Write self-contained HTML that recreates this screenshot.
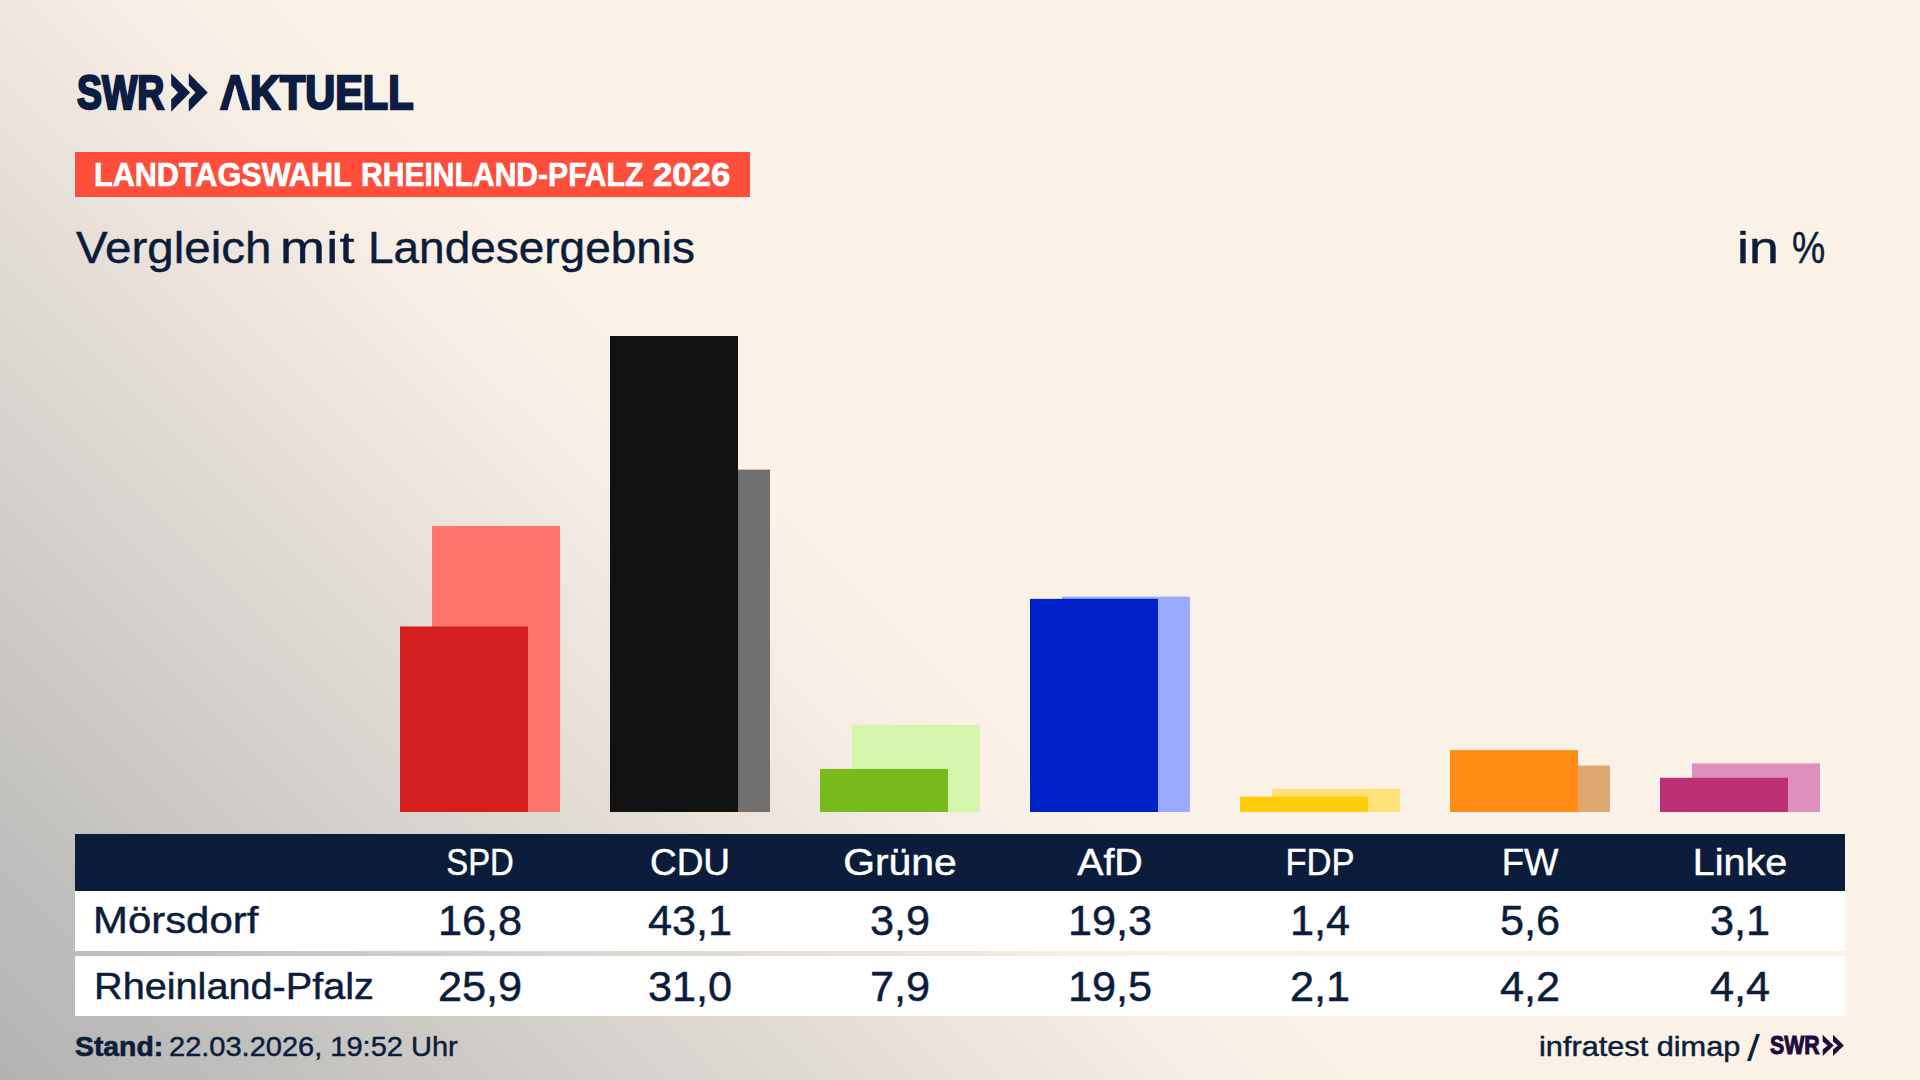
<!DOCTYPE html>
<html lang="de">
<head>
<meta charset="utf-8">
<title>Landtagswahl Rheinland-Pfalz 2026 – Vergleich mit Landesergebnis</title>
<style>
*{margin:0;padding:0;box-sizing:border-box}
html,body{width:1920px;height:1080px;overflow:hidden}
body{
  position:relative;
  font-family:"Liberation Sans",sans-serif;
  color:#0b1d3b;
  background:linear-gradient(45deg,#b2b2b2 0%,#d4d0cb 20.2%,#ebe3dc 33.5%,#f6ede4 40.2%,#faf2e7 45%,#faf2e7 100%);
}
.t{position:absolute;white-space:nowrap;line-height:1;display:block;-webkit-text-stroke:0.45px currentColor}
.l{transform-origin:0 50%}
.c{transform-origin:50% 50%;width:300px;margin-left:-150px;text-align:center}
.logo{font-weight:bold;color:#0b1d42;-webkit-text-stroke:2.4px #0b1d42;paint-order:stroke fill}
#label{position:absolute;left:75px;top:152px;width:675px;height:44.5px;background:#fe4f3d}
#labelt{position:absolute;left:75px;top:157.5px;font-size:33.6px;font-weight:bold;color:#fff}
#labelt span{-webkit-text-stroke:0.7px #fff}
#acov{position:absolute;left:225px;top:83px;width:20px;height:28px;background:linear-gradient(45deg,#b2b2b2 0%,#d4d0cb 20.2%,#ebe3dc 33.5%,#f6ede4 40.2%,#faf2e7 45%,#faf2e7 100%) -225px -83px/1920px 1080px no-repeat;clip-path:polygon(10px 1.2px,2.5px 28px,17.5px 28px)}
.bar{position:absolute;width:128px}
#thead{position:absolute;left:75px;top:834px;width:1770px;height:57px;background:#0b1d3b}
.row{position:absolute;left:75px;width:1770px;height:60px;background:#fff}
.th{color:#fff;font-size:36px;top:844.7px}
.td{font-size:42px}
.rl{left:94px;font-size:36px}
.ft{font-size:28px;top:1033px}
svg{position:absolute;overflow:visible}
</style>
</head>
<body>

<div class="t l logo" id="swr" style="left:77px;top:68.7px;font-size:47.4px;transform:scaleX(0.79)">SWR</div>
<svg id="chev" style="left:0;top:0" width="230" height="130" viewBox="0 0 230 130"><g fill="#0b1d42"><path d="M171.2 73.3 L190.1 92.5 L171.2 111.7 L171.2 99.4 L178.1 92.5 L171.2 85.6Z"/><path d="M188.8 73.3 L207.7 92.5 L188.8 111.7 L188.8 99.4 L195.6 92.5 L188.8 85.6Z"/></g></svg>
<div class="t l logo" id="akt" style="left:220.3px;top:68.7px;font-size:47.4px;transform:scaleX(0.875)">AKTUELL</div>
<div id="acov"></div>
<div id="label"></div>
<div id="labelt">
<span class="t l" id="lw1" style="left:18.65px;top:0;transform:scaleX(0.911)">LANDTAGSWAHL</span> 
<span class="t l" id="lw2" style="left:285.8px;top:0;transform:scaleX(0.8955)">RHEINLAND-PFALZ</span> 
<span class="t l" id="lw3" style="left:577.8px;top:0;transform:scaleX(1.0339)">2026</span>
</div>
<div id="title" style="position:absolute;left:0;top:224.8px;font-size:45px">
<span class="t l" id="tw1" style="left:76.2px;top:0;transform:scaleX(1.056)">Vergleich</span> 
<span class="t l" id="tw2" style="left:280.4px;top:0;letter-spacing:1.1px;transform:scaleX(1.2)">mit</span> 
<span class="t l" id="tw3" style="left:367.9px;top:0;transform:scaleX(1.021)">Landesergebnis</span>
</div>
<div id="unit" style="position:absolute;left:0;top:224.8px;font-size:45px">
<span class="t l" id="uw1" style="left:1737.4px;top:0;transform:scaleX(1.19)">in</span> 
<span class="t l" id="uw2" style="left:1792.2px;top:0;transform:scaleX(0.83)">%</span>
</div>

<svg id="bars" style="left:0;top:300px" width="1920" height="520" viewBox="0 300 1920 520">
<rect x="432" y="525.96" width="128" height="286.04" fill="#ff746c"/>
<rect x="400" y="626.46" width="128" height="185.54" fill="#d51f1f"/>
<rect x="642" y="469.63" width="128" height="342.37" fill="#72706f"/>
<rect x="610" y="336.0" width="128" height="476.0" fill="#121212"/>
<rect x="852" y="724.75" width="128" height="87.25" fill="#d5f5ac"/>
<rect x="820" y="768.93" width="128" height="43.07" fill="#78b91b"/>
<rect x="1062" y="596.64" width="128" height="215.36" fill="#9aabff"/>
<rect x="1030" y="598.85" width="128" height="213.15" fill="#0021c8"/>
<rect x="1272" y="788.81" width="128" height="23.19" fill="#ffe27a"/>
<rect x="1240" y="796.54" width="128" height="15.46" fill="#ffcc0d"/>
<rect x="1482" y="765.61" width="128" height="46.39" fill="#dfa770"/>
<rect x="1450" y="750.15" width="128" height="61.85" fill="#ff8c14"/>
<rect x="1692" y="763.41" width="128" height="48.59" fill="#df8fbb"/>
<rect x="1660" y="777.76" width="128" height="34.24" fill="#be3075"/>
</svg>

<div id="thead"></div>
<div class="row" style="top:891px"></div>
<div class="row" style="top:956px"></div>
<div class="t c th" id="h0" style="left:480px;transform:scaleX(0.9117)">SPD</div>
<div class="t c th" id="h1" style="left:690px;transform:scaleX(1.0274)">CDU</div>
<div class="t c th" id="h2" style="left:900px;transform:scaleX(1.1355)">Grüne</div>
<div class="t c th" id="h3" style="left:1110px;transform:scaleX(1.0933)">AfD</div>
<div class="t c th" id="h4" style="left:1320px;transform:scaleX(0.9586)">FDP</div>
<div class="t c th" id="h5" style="left:1530px;transform:scaleX(1.0114)">FW</div>
<div class="t c th" id="h6" style="left:1740px;transform:scaleX(1.0966)">Linke</div>
<div class="t l rl" id="rl1" style="left:92.6px;top:903px;transform:scaleX(1.164)">Mörsdorf</div>
<div class="t c td" id="a0" style="left:480px;top:899.5px;transform:scaleX(1.03)">16,8</div>
<div class="t c td" id="a1" style="left:690px;top:899.5px;transform:scaleX(1.03)">43,1</div>
<div class="t c td" id="a2" style="left:900px;top:899.5px;transform:scaleX(1.03)">3,9</div>
<div class="t c td" id="a3" style="left:1110px;top:899.5px;transform:scaleX(1.03)">19,3</div>
<div class="t c td" id="a4" style="left:1320px;top:899.5px;transform:scaleX(1.03)">1,4</div>
<div class="t c td" id="a5" style="left:1530px;top:899.5px;transform:scaleX(1.03)">5,6</div>
<div class="t c td" id="a6" style="left:1740px;top:899.5px;transform:scaleX(1.03)">3,1</div>
<div class="t l rl" id="rl2" style="top:969px;transform:scaleX(1.1012)">Rheinland-Pfalz</div>
<div class="t c td" id="b0" style="left:480px;top:965.8px;transform:scaleX(1.03)">25,9</div>
<div class="t c td" id="b1" style="left:690px;top:965.8px;transform:scaleX(1.03)">31,0</div>
<div class="t c td" id="b2" style="left:900px;top:965.8px;transform:scaleX(1.03)">7,9</div>
<div class="t c td" id="b3" style="left:1110px;top:965.8px;transform:scaleX(1.03)">19,5</div>
<div class="t c td" id="b4" style="left:1320px;top:965.8px;transform:scaleX(1.03)">2,1</div>
<div class="t c td" id="b5" style="left:1530px;top:965.8px;transform:scaleX(1.03)">4,2</div>
<div class="t c td" id="b6" style="left:1740px;top:965.8px;transform:scaleX(1.03)">4,4</div>
<div class="t l ft" id="stand1" style="left:75px;font-weight:bold;-webkit-text-stroke:0.6px #0b1d3b;transform:scaleX(1.0119)">Stand:</div>
<div class="t l ft" id="stand2" style="left:169px;transform:scaleX(1.0361)">22.03.2026, 19:52 Uhr</div>
<div class="t l ft" id="src1" style="left:1539px;transform:scaleX(1.0964)">infratest dimap</div>
<div class="t l" id="slash" style="left:1746.5px;top:1029.5px;font-size:37px;-webkit-text-stroke:0;transform:scaleX(1.25)">/</div>
<div class="t l" id="src2" style="left:1769.5px;top:1032.2px;font-size:26.2px;font-weight:bold;color:#1e0a3c;-webkit-text-stroke:1.1px #1e0a3c;transform:scaleX(0.813)">SWR</div>
<svg style="left:1800px;top:1020px" width="60" height="50" viewBox="1800 1020 60 50"><g fill="#1e0a3c"><path d="M1822.7 1034.7 L1833.6 1045.4 L1822.7 1056 L1822.7 1049.6 L1827.6 1045.4 L1822.7 1041.6Z"/><path d="M1833 1034.7 L1843.9 1045.4 L1833 1056 L1833 1049.6 L1837.9 1045.4 L1833 1041.6Z"/></g></svg>
</body>
</html>
